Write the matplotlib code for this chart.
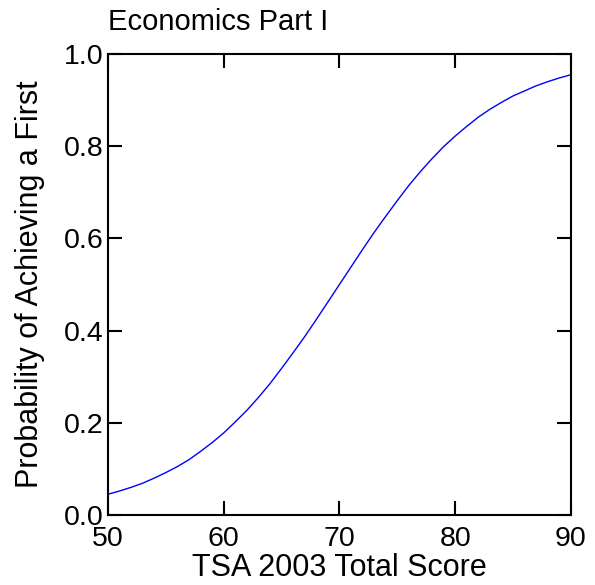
import numpy as np
import matplotlib
matplotlib.use("Agg")
import matplotlib.pyplot as plt

plt.rcParams['font.family'] = ['Liberation Sans', 'DejaVu Sans']

# TSA score and probability
score = list(range(50, 91))
prob = [0.045, 0.052, 0.060, 0.069, 0.080, 0.092, 0.105, 0.120, 0.138, 0.157,
        0.178, 0.202, 0.227, 0.255, 0.285, 0.318, 0.352, 0.387, 0.424, 0.462,
        0.500, 0.538, 0.576, 0.613, 0.648, 0.682, 0.715, 0.745, 0.773, 0.799,
        0.822, 0.843, 0.863, 0.880, 0.895, 0.909, 0.920, 0.931, 0.940, 0.948,
        0.955]

xticks = [50, 60, 70, 80, 90]
yticks = [0.0, 0.2, 0.4, 0.6, 0.8, 1.0]

fig = plt.figure(figsize=(5.95, 5.85), dpi=100)
ax = fig.add_axes([0.1815, 0.1197, 0.778, 0.788])

ax.plot(score, prob, color='#0000ff', lw=1.0)

ax.set_xlim(50, 90)
ax.set_ylim(0, 1)
ax.set_xticks(xticks)
ax.set_yticks(yticks)
ax.set_yticklabels(['%.1f' % v for v in yticks])
ax.tick_params(direction='in', length=10, width=1.5, labelsize=20.5,
               top=True, right=True)
ax.tick_params(axis='y', pad=3)
ax.tick_params(axis='x', pad=8)
for s in ax.spines.values():
    s.set_linewidth(1.5)

ax.set_xlabel('TSA 2003 Total Score', fontsize=22, labelpad=1)
ax.set_ylabel('Probability of Achieving a First', fontsize=22, labelpad=14)
ax.set_title('Economics Part I', loc='left', fontsize=21, pad=17)

fig.savefig('out.png', dpi=100)
